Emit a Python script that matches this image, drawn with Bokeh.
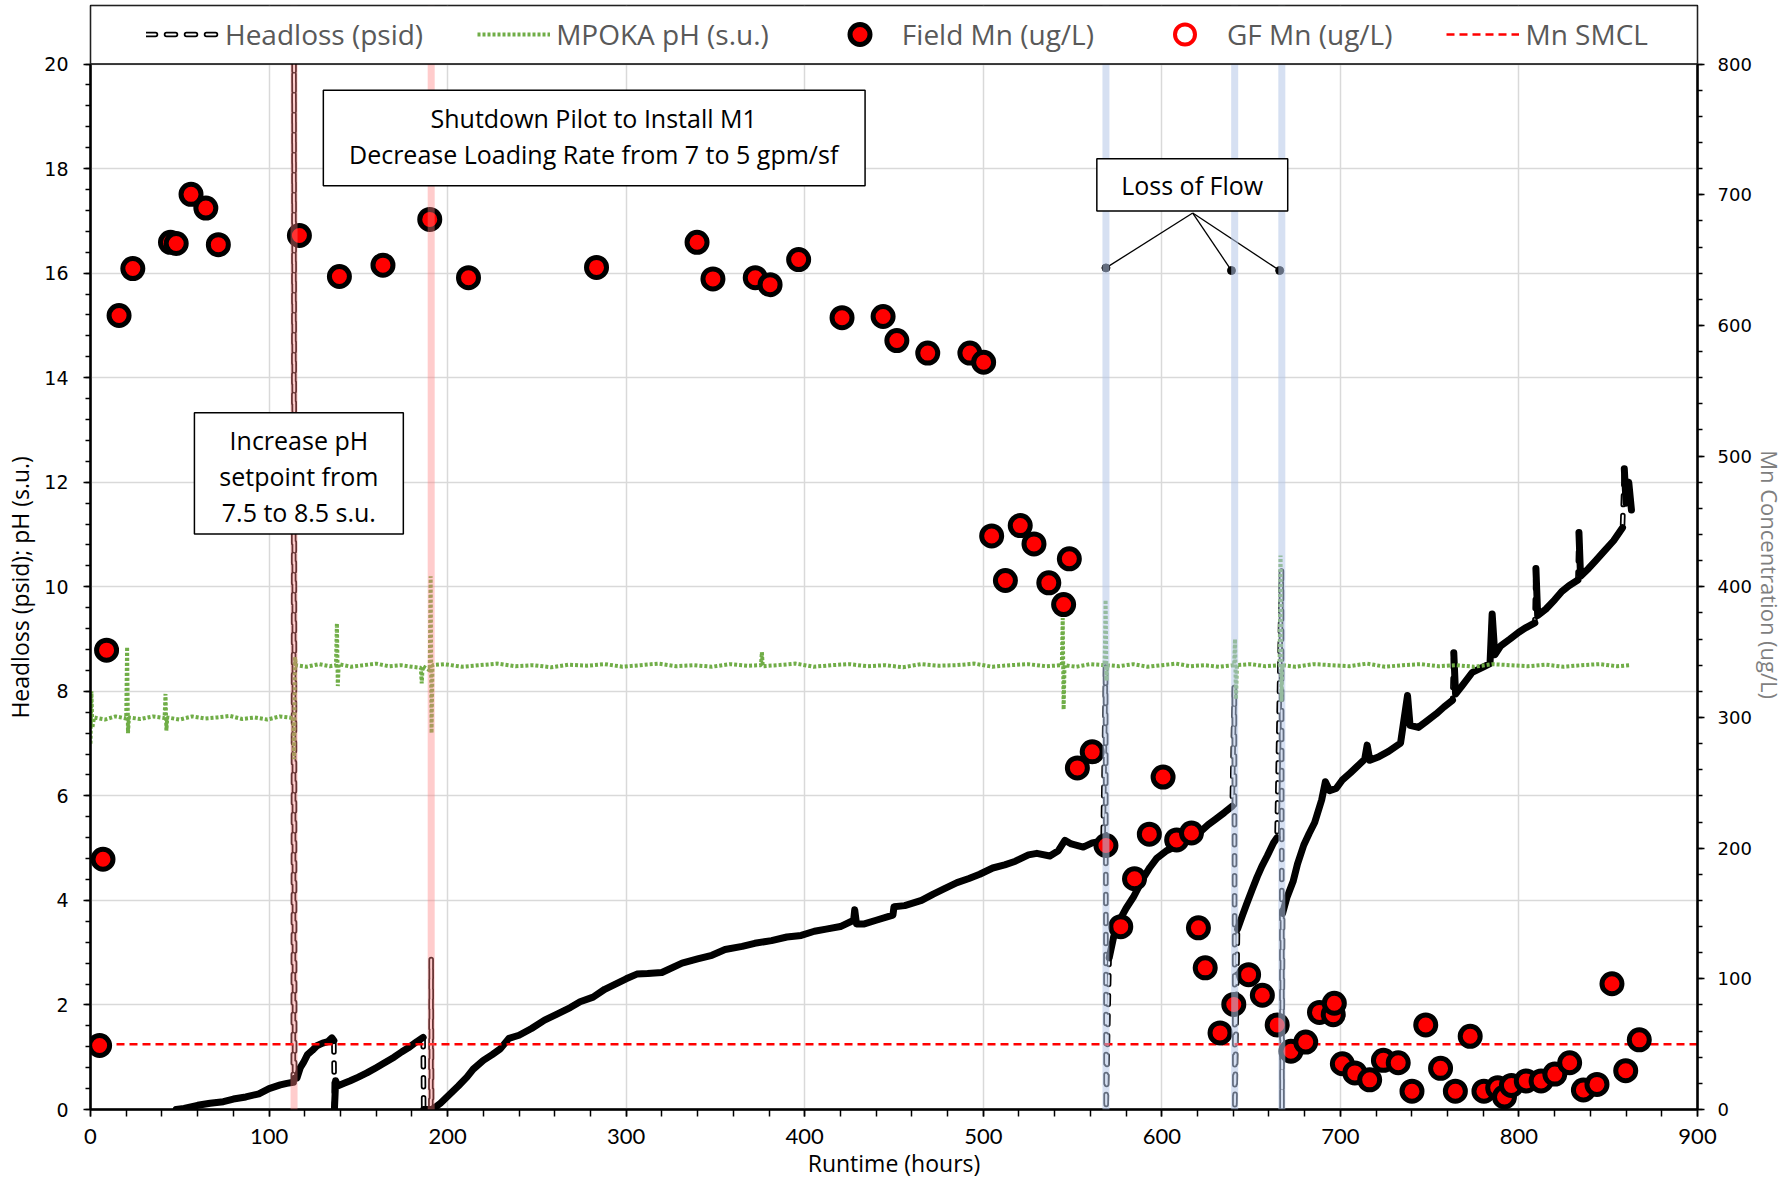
import math
from bokeh.plotting import figure
from bokeh.models import (Range1d, LinearAxis, FixedTicker, Span, BoxAnnotation,
                          Label, Legend, LegendItem)
from bokeh.embed import file_html
from bokeh.resources import INLINE

# ---------------- data ----------------
# Headloss (psid) vs runtime (hours)
hl_hours = [48, 52.4, 60, 67, 74.4, 80, 87, 94.3, 100, 106.3,
            110, 113.6, 114.0, 114.3, 115.6, 117.5, 119.3, 121.5, 124.2, 126.8,
            130, 133, 135.2, 136.3, 136.6, 137.3, 138.4, 142, 145.5, 150,
            154.8, 160, 164, 170, 174.2, 178, 182.8, 186.3, 186.6, 190.6,
            190.8, 191.0, 192.1, 196, 201.5, 206, 210.8, 214.3, 220, 225,
            229.5, 234.3, 240, 247, 254.3, 261, 268.7, 274.2, 281.5, 288,
            294, 300, 306, 312, 320, 331.3, 340, 348, 355.4, 365,
            372, 381.4, 390, 398, 405.4, 412, 420, 427.4, 428, 429,
            433.4, 440, 449.4, 450, 456, 465.4, 472, 478, 485.3, 492,
            498, 505.3, 512, 518, 525.3, 530, 537.3, 542, 545.7, 549.3,
            556, 561, 567.1, 568.5, 568.8, 570.5, 573, 576, 580, 584,
            590, 593.3, 597, 602.6, 607, 612, 616, 621.2, 626, 630,
            635, 639.4, 640.6, 640.9, 642.4, 645, 647.5, 650.5, 653.4, 656,
            659, 662.5, 664.5, 667.0, 667.3, 667.6, 670, 673.5, 676, 679.5,
            682.5, 685.6, 689.5, 691.6, 694, 697.6, 701, 705.6, 709, 713.6,
            715, 716.5, 721.6, 727, 733.7, 737.6, 739, 743.7, 748, 753.7,
            758, 762.8, 763.5, 764.5, 767.8, 773.8, 779, 783.8, 785, 786.5,
            789.8, 795, 799.9, 804, 808.9, 809.5, 810.5, 815, 820, 824,
            828, 833, 833.6, 834.5, 839, 843, 848, 853, 858, 859,
            860, 861.5, 863]
hl_psid = [0.0, 0.02, 0.08, 0.12, 0.15, 0.2, 0.24, 0.3, 0.4, 0.47,
           0.5, 0.52, 20.6, 0.6, 0.6, 0.8, 0.9, 1.05, 1.13, 1.22,
           1.27, 1.3, 1.37, 1.32, 0.0, 0.55, 0.45, 0.5, 0.55, 0.62,
           0.7, 0.8, 0.88, 1.0, 1.1, 1.18, 1.3, 1.38, 0.0, 0.0,
           2.88, 0.0, 0.02, 0.12, 0.3, 0.45, 0.62, 0.77, 0.94, 1.05,
           1.16, 1.36, 1.42, 1.55, 1.71, 1.82, 1.95, 2.06, 2.15, 2.3,
           2.4, 2.5, 2.59, 2.6, 2.62, 2.8, 2.88, 2.95, 3.06, 3.12,
           3.18, 3.23, 3.3, 3.33, 3.41, 3.45, 3.5, 3.62, 3.82, 3.55,
           3.55, 3.62, 3.72, 3.88, 3.9, 4.0, 4.12, 4.22, 4.34, 4.42,
           4.5, 4.62, 4.68, 4.75, 4.87, 4.9, 4.85, 4.95, 5.15, 5.08,
           5.02, 5.1, 5.14, 8.5, 0.0, 2.9, 3.3, 3.6, 3.85, 4.06,
           4.45, 4.63, 4.8, 4.95, 5.02, 5.12, 5.2, 5.3, 5.45, 5.55,
           5.68, 5.8, 8.1, 0.0, 3.45, 3.7, 3.93, 4.2, 4.45, 4.65,
           4.85, 5.1, 5.2, 10.3, 0.0, 3.75, 4.05, 4.36, 4.7, 5.06,
           5.28, 5.49, 5.92, 6.27, 6.1, 6.14, 6.3, 6.44, 6.55, 6.7,
           6.97, 6.68, 6.75, 6.85, 7.01, 7.92, 7.35, 7.31, 7.42, 7.57,
           7.7, 7.83, 8.74, 7.95, 8.09, 8.36, 8.45, 8.53, 9.48, 8.7,
           8.87, 9.0, 9.13, 9.22, 9.31, 10.35, 9.45, 9.57, 9.75, 9.91,
           10.02, 10.13, 11.04, 10.2, 10.35, 10.5, 10.69, 10.88, 11.13, 12.26,
           11.6, 12.0, 11.47]

# MPOKA pH (s.u.)
ph_hours = [0, 0.5, 1, 2, 8, 14, 20, 20.5, 21, 21.5,
            28, 35, 41.5, 42, 42.5, 43, 50, 57, 64, 71,
            78, 85, 92, 99, 106, 113, 113.6, 114, 114.5, 115,
            121, 128, 134, 137.5, 138, 138.5, 139, 146, 153, 160,
            167, 174, 180, 185, 185.5, 186, 190, 190.5, 191, 191.5,
            198, 208, 218, 228, 238, 248, 258, 268, 278, 288,
            298, 308, 318, 328, 338, 348, 358, 368, 375.5, 376,
            376.5, 385, 395, 405, 415, 425, 435, 445, 455, 465,
            475, 485, 495, 505, 515, 525, 535, 544, 544.5, 545,
            545.5, 552, 560, 568, 568.5, 569, 569.5, 576, 584, 592,
            600, 608, 616, 624, 632, 640.5, 641, 641.5, 642, 650,
            658, 666, 666.5, 667, 667.5, 675, 685, 695, 705, 715,
            725, 735, 745, 755, 765, 775, 785, 795, 805, 815,
            825, 835, 845, 855, 862]
ph_su = [7.0, 8.0, 7.3, 7.5, 7.46, 7.52, 7.48, 8.85, 7.2, 7.5,
         7.47, 7.52, 7.49, 7.95, 7.25, 7.5, 7.46, 7.52, 7.48, 7.5,
         7.53, 7.47, 7.5, 7.46, 7.52, 7.49, 7.5, 6.7, 8.65, 8.5,
         8.47, 8.52, 8.48, 8.5, 9.3, 8.1, 8.52, 8.47, 8.5, 8.53,
         8.48, 8.5, 8.47, 8.45, 8.15, 8.48, 8.4, 10.2, 7.2, 8.5,
         8.52, 8.47, 8.5, 8.53, 8.48, 8.5, 8.46, 8.51, 8.49, 8.52,
         8.47, 8.5, 8.53, 8.48, 8.5, 8.47, 8.52, 8.49, 8.5, 8.75,
         8.48, 8.5, 8.53, 8.47, 8.5, 8.52, 8.48, 8.5, 8.46, 8.52,
         8.49, 8.5, 8.53, 8.47, 8.5, 8.52, 8.48, 8.5, 9.4, 7.65,
         8.5, 8.47, 8.52, 8.5, 9.75, 8.2, 8.5, 8.48, 8.52, 8.47,
         8.5, 8.53, 8.48, 8.5, 8.47, 8.5, 9.0, 7.85, 8.5, 8.52,
         8.48, 8.5, 10.6, 7.8, 8.5, 8.47, 8.52, 8.5, 8.48, 8.53,
         8.47, 8.5, 8.52, 8.48, 8.5, 8.47, 8.52, 8.5, 8.48, 8.51,
         8.47, 8.5, 8.52, 8.48, 8.5]

# Field Mn (ug/L)
fm_hours = [5.1, 7.0, 9.0, 16, 23.7, 44.8, 48, 56.3, 64.6, 71.6,
            117, 139.4, 163.8, 190, 211.7, 283.4, 339.7, 348.6, 372.3, 380.6,
            396.6, 420.9, 443.9, 451.6, 468.9, 492.5, 500.2, 504.7, 512.4, 520.7,
            528.4, 536.7, 545, 548.2, 552.7, 561, 568.7, 577, 584.7, 593,
            600.7, 608.3, 616.6, 620.5, 624.3, 632.6, 640.3, 648.6, 656.3, 664.6,
            672.3, 680.6, 688.3, 696, 696.6, 701.1, 708.1, 716.4, 724.1, 732.4,
            740.1, 747.8, 756.1, 764.4, 772.7, 780.4, 788.1, 791.9, 795.8, 804.1,
            812.4, 820.1, 828.4, 836.1, 843.7, 852.1, 859.8, 867.4]
fm_ugl = [49, 191.5, 351.5, 607.6, 643.5, 663.6, 662.7, 700.3, 689.8, 661.8,
          668.8, 637.4, 646.1, 681.1, 636.5, 644.4, 663.6, 635.6, 636.5, 631.2,
          650.4, 605.9, 606.8, 588.4, 578.8, 578.8, 571.8, 438.9, 404.8, 446.8,
          432.8, 403.0, 386.4, 421.4, 261.4, 273.7, 202, 139.9, 176.6, 210.7,
          254.4, 206.3, 211.6, 139, 108.4, 58.6, 80.4, 103.2, 87.4, 64.7,
          44.6, 51.6, 74.3, 72.6, 81.3, 35, 28, 22.7, 37.6, 35.8,
          14, 64.7, 31.5, 14, 56, 14, 16.6, 9.6, 18.4, 21.9,
          21.9, 27.1, 35.8, 14.9, 19.2, 96.2, 29.7, 53.3]

# GF Mn (ug/L): no sample visible on the chart (placeholder keeps the legend entry)
gf_hours = [float("nan")]
gf_ugl = [float("nan")]

mn_smcl = 50  # ug/L

# event bands (hours)
ph_change_hours = [114.0, 190.8]
flow_loss_hours = [568.7, 640.8, 667.2]

# callout "Loss of Flow" targets
callout_hours = [568.7, 639.0, 666.0]
callout_psid = [16.10, 16.05, 16.05]
callout_origin = (617.3, 17.15)

x_ticks = list(range(0, 901, 100))
y_ticks = list(range(0, 21, 2))
mn_ticks = list(range(0, 801, 100))

# ---------------- figure ----------------
Y_TOP = 21.12
X_MAX = 900
TXT = "Open Sans"
NB = "\u00a0"
p = figure(width=1790, height=1183, output_backend="svg", toolbar_location=None,
           x_range=Range1d(0, X_MAX), y_range=Range1d(0, Y_TOP),
           min_border_left=90, min_border_right=93, min_border_top=5,
           min_border_bottom=74)
p.extra_y_ranges = {"mn": Range1d(0, 800 * Y_TOP / 20)}
p.background_fill_color = "white"
p.border_fill_color = "white"
p.outline_line_color = "black"
p.outline_line_width = 1.5

# grids
p.xgrid.ticker = FixedTicker(ticks=x_ticks)
p.ygrid.ticker = FixedTicker(ticks=y_ticks)
for g in (p.xgrid, p.ygrid):
    g.grid_line_color = "#D9D9D9"
    g.grid_line_width = 1.5

# axes
xa = p.xaxis[0]
xa.ticker = FixedTicker(ticks=x_ticks, minor_ticks=list(range(0, 901, 20)))
xa.axis_label = "Runtime (hours)"
ya = p.yaxis[0]
ya.ticker = FixedTicker(ticks=y_ticks, minor_ticks=[i * 0.4 for i in range(51)])
ya.bounds = (0, 20)
# trailing / leading no-break spaces shift the centred titles as in the original
ya.axis_label = "Headloss (psid); pH (s.u.)" + NB * 10
ra = LinearAxis(y_range_name="mn",
                ticker=FixedTicker(ticks=mn_ticks, minor_ticks=list(range(0, 801, 20))),
                bounds=(0, 800), axis_label=NB * 6 + "Mn Concentration (ug/L)")
p.add_layout(ra, "right")

for ax in (xa, ya, ra):
    ax.axis_line_color = "black"
    ax.axis_line_width = 2.5
    ax.major_tick_line_color = "black"
    ax.minor_tick_line_color = "black"
    ax.major_tick_line_width = 1.5
    ax.minor_tick_line_width = 1.5
    ax.major_tick_in = 0
    ax.major_tick_out = 7
    ax.minor_tick_in = 0
    ax.minor_tick_out = 5
    ax.major_label_text_color = "black"
    ax.axis_label_text_font = TXT
    ax.axis_label_text_font_style = "normal"
xa.minor_tick_out = 7
xa.major_label_text_font = "Lato"
xa.major_label_text_font_size = "22px"
xa.major_label_standoff = 12
xa.axis_label_text_font_size = "23px"
xa.axis_label_standoff = 0
xa.axis_label_text_color = "black"
for ax in (ya, ra):
    ax.major_label_text_font = "DejaVu Sans"
    ax.major_label_text_font_size = "19px"
    ax.major_label_standoff = 15
ya.axis_label_text_font_size = "23px"
ya.axis_label_text_color = "black"
ya.axis_label_standoff = 5
ra.major_label_text_font_size = "18px"
ra.major_label_standoff = 13
ra.axis_label_text_font_size = "22px"
ra.axis_label_text_color = "#7F7F7F"
ra.axis_label_standoff = 0

# ---------------- glyphs ----------------
# headloss: hollow dashed line over the whole record
DASH = "9 11"
hl_b = p.line(hl_hours, hl_psid, line_color="black", line_width=5.5,
              line_dash=DASH, line_cap="round", line_join="round")
hl_w = p.line(hl_hours, hl_psid, line_color="white", line_width=2,
              line_dash=DASH, line_cap="round", line_join="round")

# solid overlay where the record is continuous (not across jumps)
sx, sy = [], []
for i in range(len(hl_hours) - 1):
    dx = hl_hours[i + 1] - hl_hours[i]
    dy = hl_psid[i + 1] - hl_psid[i]
    jump = abs(dy) > 0.8 and abs(dy) / max(dx, 1e-6) > 1.0
    if jump:
        if sx and not (isinstance(sx[-1], float) and math.isnan(sx[-1])):
            sx.append(float("nan")); sy.append(float("nan"))
        continue
    if not sx or (isinstance(sx[-1], float) and math.isnan(sx[-1])):
        sx.append(hl_hours[i]); sy.append(hl_psid[i])
    sx.append(hl_hours[i + 1]); sy.append(hl_psid[i + 1])
p.line(sx, sy, line_color="black", line_width=7, line_join="round", line_cap="round")

# pH
ph_r = p.line(ph_hours, ph_su, line_color="#70AD47", line_width=4, line_dash="3 2")

# Mn SMCL
smcl_r = p.line([0, X_MAX], [mn_smcl, mn_smcl], y_range_name="mn",
                line_color="#FF0000", line_width=2.5, line_dash="8 5")

# Field Mn
fm_r = p.scatter(fm_hours, fm_ugl, y_range_name="mn", size=20,
                 fill_color="#FF0000", line_color="black", line_width=5)
# GF Mn
gf_r = p.scatter(gf_hours, gf_ugl, y_range_name="mn", size=20,
                 fill_color="white", line_color="#FF0000", line_width=4)

# callout for loss of flow
p.segment(x0=[callout_origin[0]] * 3, y0=[callout_origin[1]] * 3,
          x1=callout_hours, y1=callout_psid, line_color="black", line_width=1.3)
p.scatter(callout_hours, callout_psid, size=8, fill_color="black", line_color="black")

# ---------------- annotations ----------------
for h in ph_change_hours:
    p.add_layout(Span(location=h, dimension="height", line_color="#FF8080",
                      line_alpha=0.4, line_width=7))
for h in flow_loss_hours:
    p.add_layout(Span(location=h, dimension="height", line_color="#B4C7E7",
                      line_alpha=0.55, line_width=7))

# legend box (above y = 20)
p.add_layout(BoxAnnotation(bottom=20, fill_color="white", fill_alpha=1.0,
                           line_color="black", line_width=1.5, line_alpha=1.0))


def text_box(left, right, bottom, top, lines, xc, ys):
    p.add_layout(BoxAnnotation(left=left, right=right, bottom=bottom, top=top,
                               fill_color="white", fill_alpha=1.0,
                               line_color="black", line_width=1.5, line_alpha=1.0))
    for t, yy in zip(lines, ys):
        p.add_layout(Label(x=xc, y=yy, text=t, text_align="center",
                           text_baseline="middle", text_font=TXT,
                           text_font_size="25px", text_color="black"))


text_box(130.4, 433.8, 17.67, 19.50,
         ["Shutdown Pilot to Install M1", "Decrease Loading Rate from 7 to 5 gpm/sf"],
         281.8, [18.96, 18.28])
text_box(58.2, 175.2, 11.01, 13.33,
         ["Increase pH", "setpoint from", "7.5 to 8.5 s.u."],
         116.7, [12.80, 12.12, 11.43])
text_box(563.6, 670.5, 17.19, 18.19, ["Loss of Flow"], 617.0, [17.69])

legend = Legend(items=[
    LegendItem(label="Headloss (psid)", renderers=[hl_b, hl_w]),
    LegendItem(label="MPOKA pH (s.u.)", renderers=[ph_r]),
    LegendItem(label="Field Mn (ug/L)", renderers=[fm_r]),
    LegendItem(label="GF Mn (ug/L)", renderers=[gf_r]),
    LegendItem(label="Mn SMCL", renderers=[smcl_r]),
], orientation="horizontal", location=(56, 1050))
legend.padding = 0
legend.spacing = 54
legend.glyph_width = 73
legend.glyph_height = 50
legend.label_height = 50
legend.label_standoff = 6
legend.label_text_font = TXT
legend.label_text_font_size = "28px"
legend.label_text_color = "#595959"
legend.border_line_color = None
legend.background_fill_alpha = 0
p.add_layout(legend)

open("out.html", "w").write(file_html(p, INLINE))
